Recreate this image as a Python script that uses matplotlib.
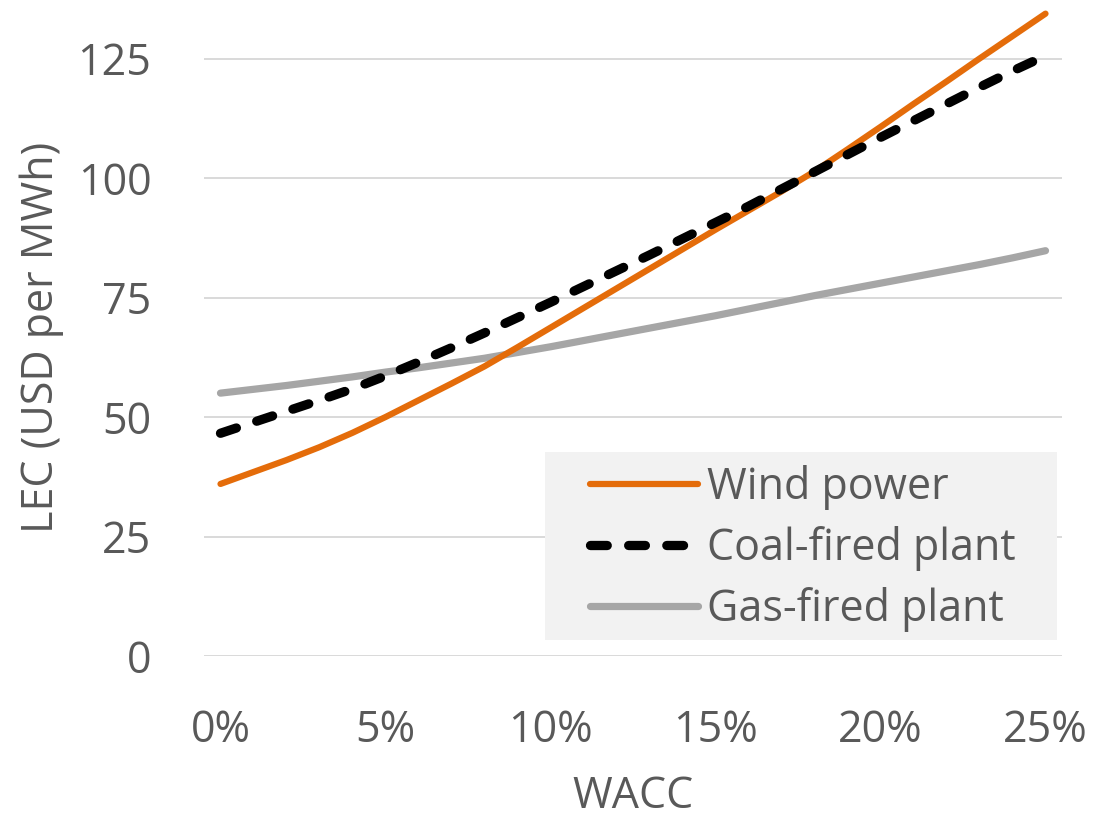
import matplotlib.pyplot as plt
from matplotlib.patches import Rectangle
from matplotlib.ticker import FixedLocator

# WACC in percent, one point per percentage step
wacc = [0, 1, 2, 3, 4, 5, 6, 7, 8, 9, 10, 11, 12,
        13, 14, 15, 16, 17, 18, 19, 20, 21, 22, 23, 24, 25]

# levelised electricity cost, USD per MWh
wind = [36.0, 38.5, 41.0, 43.7, 46.7, 50.0, 53.5, 57.0, 60.6, 64.6,
        68.7, 72.8, 76.9, 81.0, 85.1, 89.2, 93.2, 97.2, 101.4, 106.0,
        110.7, 115.5, 120.2, 125.0, 129.7, 134.4]
coal = [46.6, 48.9, 51.2, 53.5, 55.9, 58.6, 61.5, 64.5, 67.6, 70.8,
        74.0, 77.3, 80.6, 83.9, 87.3, 90.7, 94.1, 97.7, 101.3, 104.9,
        108.5, 112.0, 115.5, 119.0, 122.4, 125.6]
gas = [55.0, 55.8, 56.6, 57.5, 58.4, 59.4, 60.3, 61.3, 62.3, 63.5,
       64.7, 66.0, 67.3, 68.6, 69.9, 71.2, 72.6, 74.0, 75.4, 76.7,
       78.0, 79.3, 80.6, 81.9, 83.3, 84.8]

series_names = ["Wind power", "Coal-fired plant", "Gas-fired plant"]
x_ticks = [0, 5, 10, 15, 20, 25]
x_ticklabels = ["0%", "5%", "10%", "15%", "20%", "25%"]
y_ticks = [0, 25, 50, 75, 100, 125]

TEXT = "#595959"
plt.rcParams["font.family"] = ["Open Sans", "DejaVu Sans"]

fig = plt.figure(figsize=(10.99, 8.22), dpi=100)
ax = fig.add_axes([204 / 1099, 166 / 822, 858 / 1099, 650 / 822])

ax.plot(wacc, gas, color="#A6A6A6", lw=5.2, solid_capstyle="round",
        label=series_names[2], clip_on=False, zorder=3)
ax.plot(wacc, coal, color="black", lw=6.7, dashes=(1.8, 2.3),
        dash_capstyle="round", label=series_names[1], clip_on=False, zorder=4)
ax.plot(wacc, wind, color="#E46C0A", lw=4.5, solid_capstyle="round",
        label=series_names[0], clip_on=False, zorder=3)

ax.set_xlim(-0.5, 25.5)
ax.set_ylim(0, 136)
ax.xaxis.set_major_locator(FixedLocator(x_ticks))
ax.set_xticklabels(x_ticklabels)
ax.yaxis.set_major_locator(FixedLocator(y_ticks))
ax.tick_params(axis="both", length=0, labelsize=31, labelcolor=TEXT)
ax.tick_params(axis="x", pad=38)
ax.tick_params(axis="y", pad=38)

ax.grid(axis="y", color="#D9D9D9", lw=1.4)
ax.set_axisbelow(True)
for s in ax.spines.values():
    s.set_visible(False)

ax.set_xlabel("WACC", fontsize=31, color=TEXT, va="center")
ax.xaxis.set_label_coords(0.5, (656 - 797) / 650)
ax.set_ylabel("LEC (USD per MWh)", fontsize=31, color=TEXT, va="center")
ax.yaxis.set_label_coords((42 - 204) / 858, 0.49)

# grey panel behind the legend
ax.add_patch(Rectangle((0.397, 0.025), 0.597, 0.289, transform=ax.transAxes,
                       facecolor="#F2F2F2", edgecolor="none", zorder=5))

handles, labels = ax.get_legend_handles_labels()
order = [2, 1, 0]
leg = ax.legend([handles[i] for i in order], [labels[i] for i in order],
                loc="upper left",
                bbox_to_anchor=((590 - 204) / 858, (656 - 465) / 650),
                fontsize=31, frameon=False,
                handlelength=2.5, handletextpad=0.22, labelspacing=0.37,
                borderpad=0, borderaxespad=0)
for t in leg.get_texts():
    t.set_color(TEXT)
leg.set_zorder(6)

fig.savefig("out.png", dpi=100)
